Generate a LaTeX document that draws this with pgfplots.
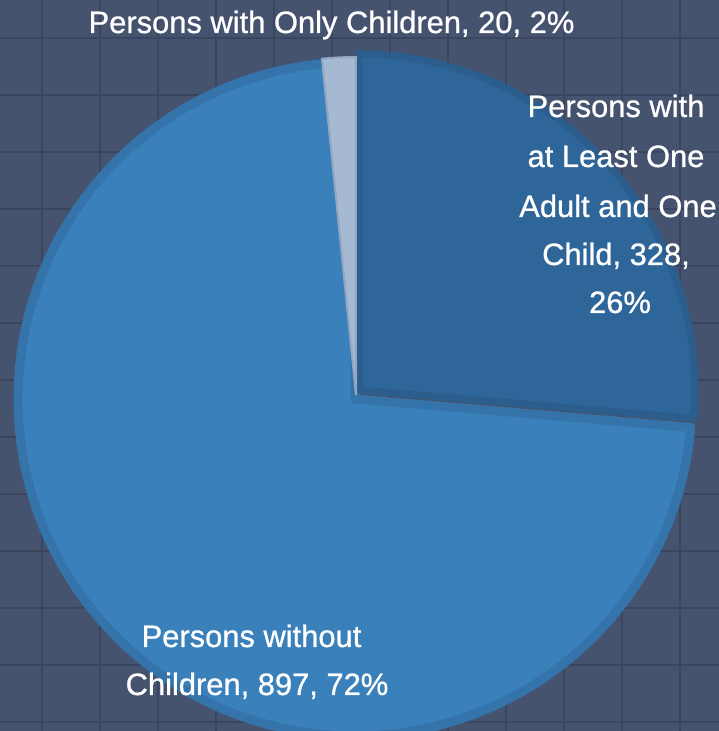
\documentclass[border=0pt]{standalone}
\usepackage{pgfplots}
\pgfplotsset{compat=1.18}
\usepackage{fontspec}
\setmainfont{Liberation Sans}
\newfontfamily\labfont{Liberation Sans}[FakeBold=0.8]
\definecolor{bg}{HTML}{46536F}
\definecolor{gridc}{HTML}{3A4560}
\definecolor{bigf}{HTML}{3A80BB}
\definecolor{bigb}{HTML}{3574AB}
\definecolor{darkf}{HTML}{2F6699}
\definecolor{darkb}{HTML}{2B5D8D}
\definecolor{smallf}{HTML}{A6B9D3}
\definecolor{smallb}{HTML}{93A6C2}
\begin{document}
\begin{tikzpicture}
% data values
\pgfmathsetmacro\vA{328}% Persons with at Least One Adult and One Child
\pgfmathsetmacro\vB{897}% Persons without Children
\pgfmathsetmacro\vC{20}%  Persons with Only Children
\pgfmathsetmacro\tot{\vA+\vB+\vC}
\pgfmathsetmacro\aZero{90}
\pgfmathsetmacro\aOne{90-\vA/\tot*360}
\pgfmathsetmacro\aTwo{\aOne-\vB/\tot*360}
\pgfmathsetmacro\aThree{\aTwo-\vC/\tot*360}
\begin{axis}[
  scale only axis, width=719bp, height=731bp,
  xmin=0, xmax=719, ymin=0, ymax=731,
  axis background/.style={fill=bg},
  axis line style={draw=none},
  tick style={draw=none},
  xticklabels={}, yticklabels={},
  xtick={42,100,...,700}, ytick={9,66,...,720},
  grid=major, grid style={gridc, line width=1.2bp},
  clip=true,
]
% big slice
\addplot[fill=bigf, draw=bigb, line width=9bp, line join=round, domain=\aThree:\aOne, samples=120, variable=\t]
  ({355+337*cos(\t)},{332+337*sin(\t)}) -- (axis cs:355,332) -- cycle;
% exploded slice
\addplot[fill=darkf, draw=darkb, line width=7bp, line join=miter, domain=\aOne:\aZero, samples=60, variable=\t]
  ({359+336*cos(\t)},{341+336*sin(\t)}) -- (axis cs:359,341) -- cycle;
% small slice
\addplot[fill=smallf, draw=smallb, line width=2bp, domain=\aTwo:\aThree, samples=10, variable=\t]
  ({356+338*cos(\t)},{336+338*sin(\t)}) -- (axis cs:356,336) -- cycle;
% labels
\begin{scope}[every node/.style={text=white, font=\labfont\fontsize{31}{36}\selectfont, anchor=base, inner sep=0pt}]
\node at (axis cs:331.5,698) {Persons with Only Children, 20, 2\%};
\node at (axis cs:616,614) {Persons with};
\node at (axis cs:616,564) {at Least One};
\node at (axis cs:618,514) {Adult and One};
\node at (axis cs:616,466) {Child, 328,};
\node at (axis cs:620,418) {26\%};
\node at (axis cs:251.5,84) {Persons without};
\node at (axis cs:257,36) {Children, 897, 72\%};
\end{scope}
\end{axis}
\pgfresetboundingbox
\path[use as bounding box] (current axis.south west) rectangle (current axis.north east);
\end{tikzpicture}
\end{document}
